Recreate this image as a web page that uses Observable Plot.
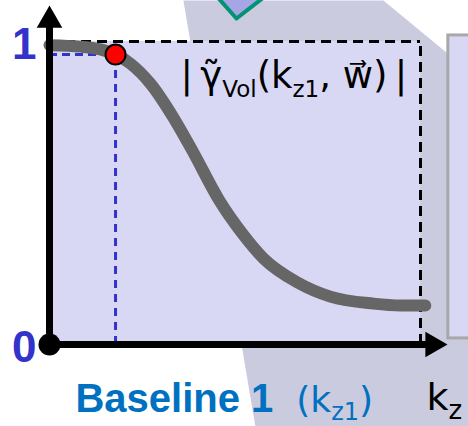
<!DOCTYPE html>
<html>
<head>
<meta charset="utf-8">
<script src="https://cdn.jsdelivr.net/npm/d3@7"></script>
<script src="https://cdn.jsdelivr.net/npm/@observablehq/plot@0.6"></script>
<style>
  html, body { margin: 0; padding: 0; background: #fff; }
  #chart svg { display: block; overflow: hidden; }
</style>
</head>
<body>
<div id="chart"></div>
<script>
// Normalised volume coherence magnitude |γ̃Vol(kz, w)| against vertical wavenumber kz
const kz       = [0, 0.084, 0.137, 0.178, 0.218, 0.272, 0.334, 0.385, 0.458, 0.520, 0.577, 0.668, 0.757, 0.873, 0.946, 1.013];
const gammaVol = [0.988, 0.983, 0.974, 0.957, 0.927, 0.861, 0.749, 0.640, 0.475, 0.366, 0.284, 0.205, 0.158, 0.135, 0.129, 0.129];

// Baseline 1 operating point
const kz1 = 0.178;
const gammaAtKz1 = 0.957;

// Value labels on the vertical axis
const yTicks = [0, 1];

// Axis extents (arrow heads sit at these ends)
const kzAxisEnd = 1.033;
const gammaAxisEnd = 1.07;

// Backdrop shapes behind the plot
const backdropX = [0.361, 0.900, 1.129, 1.129, 0.555];
const backdropY = [1.135, 1.135, 0.904, -0.271, -0.271];
const diamondX  = [0.504, 0.601, 0.534, 0.437, 0.504];
const diamondY  = [1.076, 1.168, 1.261, 1.168, 1.076];
const panelX = [1.075, 1.3];
const panelY = [0.02, 1.02];

// Text labels
const curveLabel = "|γ̃Vol(kz1, w⃗)|";
const kzLabel = "kz";
const baselineLabel = "Baseline 1 (kz1)";

const curveData = kz.map((k, i) => ({kz: k, g: gammaVol[i]}));
const backdrop = backdropX.map((x, i) => ({x, y: backdropY[i]}));
const diamond = diamondX.map((x, i) => ({x, y: diamondY[i]}));

const lavender = "#d8d8f4";
const tickBlue = "#3333cc";

const plot = Plot.plot({
  width: 468,
  height: 426,
  margin: 0,
  style: {background: "#fff"},
  x: {type: "linear", domain: [0, 1], range: [49, 420], axis: null},
  y: {type: "linear", domain: [0, 1], range: [344, 41], axis: null},
  marks: [
    // backdrop
    Plot.line(backdrop, {x: "x", y: "y", fill: "#cbcbdf", stroke: "none"}),
    Plot.line(diamond, {x: "x", y: "y", fill: "#a6a6e6", stroke: "#009473", strokeWidth: 4, strokeLinejoin: "miter"}),
    Plot.rect([0], {x1: panelX[0], x2: panelX[1], y1: panelY[0], y2: panelY[1], fill: lavender, stroke: "#a8a8a8", strokeWidth: 3}),
    // plot area
    Plot.rect([0], {x1: 0, x2: 1, y1: 0, y2: 1, fill: lavender}),
    Plot.ruleY([1], {x1: 0, x2: 1, stroke: "#000", strokeWidth: 3, strokeDasharray: "10,6"}),
    Plot.ruleX([1], {y1: 0, y2: 1, stroke: "#000", strokeWidth: 3, strokeDasharray: "10,6"}),
    Plot.ruleY([gammaAtKz1], {x1: 0, x2: kz1, stroke: tickBlue, strokeWidth: 3, strokeDasharray: "8,5"}),
    Plot.ruleX([kz1], {y1: 0, y2: gammaAtKz1, stroke: tickBlue, strokeWidth: 3, strokeDasharray: "8,6"}),
    // coherence curve
    Plot.line(curveData, {x: "kz", y: "g", stroke: "#666666", strokeWidth: 12, curve: "monotone-x", strokeLinecap: "round"}),
    // axes with arrow heads
    Plot.ruleX([0], {y1: 0, y2: gammaAxisEnd - 0.01, stroke: "#000", strokeWidth: 7}),
    Plot.ruleY([0], {x1: 0, x2: kzAxisEnd - 0.01, stroke: "#000", strokeWidth: 7}),
    Plot.dot([0], {x: 0, y: gammaAxisEnd, symbol: "triangle", r: 9.5, fill: "#000"}),
    Plot.dot([0], {x: kzAxisEnd, y: 0, symbol: "triangle", r: 9.5, fill: "#000", rotate: 90}),
    Plot.dot([0], {x: 0, y: 0, r: 11, fill: "#000"}),
    // operating point
    Plot.dot([0], {x: kz1, y: gammaAtKz1, r: 10, fill: "#ff0000", stroke: "#000", strokeWidth: 2}),
    // tick values
    Plot.text(yTicks, {x: 0, y: d => d, text: d => String(d), dx: -13, dy: 3, textAnchor: "end", lineAnchor: "middle",
      fontSize: 44, fontWeight: "bold", fontFamily: "Liberation Sans, Arial, sans-serif", fill: tickBlue}),
    // labels
    Plot.text([curveLabel], {x: 0.353, y: 0.845, text: d => d, textAnchor: "start", lineAnchor: "bottom",
      fontSize: 37, fontFamily: "DejaVu Sans, sans-serif", fill: "#000"}),
    Plot.text([baselineLabel], {x: 0.07, y: -0.224, text: d => d, textAnchor: "start", lineAnchor: "bottom",
      fontSize: 40, fontWeight: "bold", fontFamily: "Liberation Sans, Arial, sans-serif", fill: "#0070c0"}),
    Plot.text([kzLabel], {x: 1.016, y: -0.215, text: d => d, textAnchor: "start", lineAnchor: "bottom",
      fontSize: 38, fontFamily: "DejaVu Sans, sans-serif", fill: "#000"})
  ]
});

// Rebuild labels that carry subscripts as tspans
const plainFace = "DejaVu Sans, sans-serif";
const richParts = new Map([
  [curveLabel, [
    {text: "|\u2009\u03B3\u0303"},
    {text: "Vol", size: 23, shift: 9},
    {text: "(k"},
    {text: "z1", size: 23, shift: 9},
    {text: ", w\u20D7)\u2009|"}
  ]],
  [baselineLabel, [
    {text: "Baseline 1"},
    {text: "\u00A0\u00A0(k", size: 36, weight: "normal", family: plainFace},
    {text: "z1", size: 24, weight: "normal", family: plainFace, shift: 8},
    {text: ")", size: 36, weight: "normal", family: plainFace}
  ]],
  [kzLabel, [
    {text: "k"},
    {text: "z", size: 26, shift: 9}
  ]]
]);

const NS = "http://www.w3.org/2000/svg";
plot.querySelectorAll("text").forEach(node => {
  const parts = richParts.get(node.textContent);
  if (!parts) return;
  node.textContent = "";
  let current = 0;
  for (const p of parts) {
    const ts = document.createElementNS(NS, "tspan");
    ts.textContent = p.text;
    const target = p.shift || 0;
    if (target !== current) { ts.setAttribute("dy", target - current); current = target; }
    if (p.size) ts.setAttribute("font-size", p.size);
    if (p.weight) ts.setAttribute("font-weight", p.weight);
    if (p.family) ts.setAttribute("font-family", p.family);
    node.appendChild(ts);
  }
});

document.getElementById("chart").appendChild(plot);
</script>
</body>
</html>
